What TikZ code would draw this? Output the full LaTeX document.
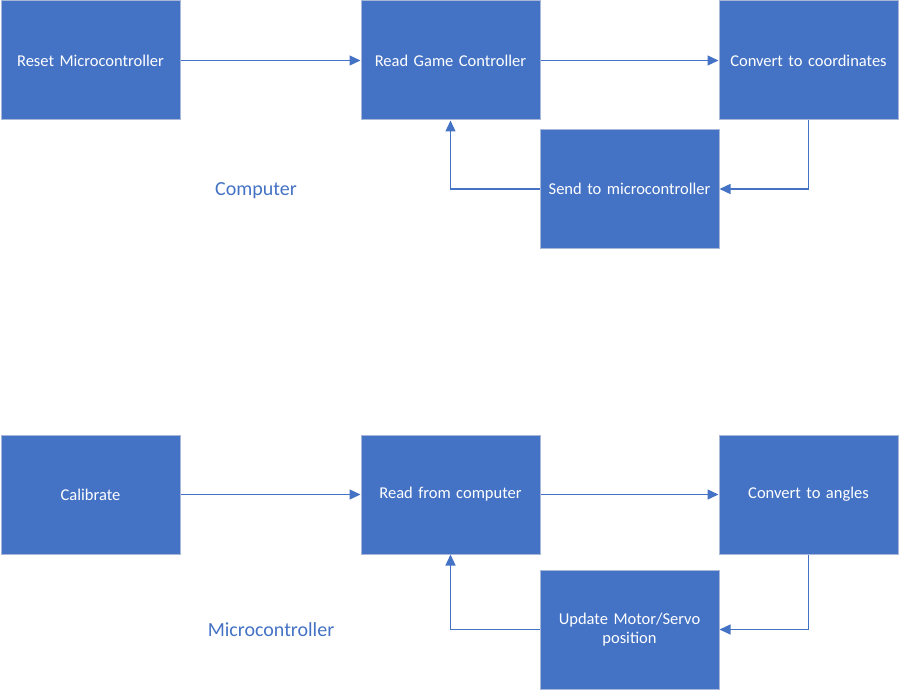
\documentclass[tikz,border=0pt]{standalone}
\usepackage{fontspec}
\setmainfont{Carlito}
\usetikzlibrary{arrows.meta}
\definecolor{boxblue}{HTML}{4472C4}
\definecolor{boxedge}{HTML}{A9B8D8}
\tikzset{
  stepbox/.style={rectangle, fill=boxblue, draw=boxedge, line width=1pt, minimum width=179pt, minimum height=119pt, inner sep=2pt, text=white, font=\fontsize{16.5pt}{19.5pt}\selectfont, align=center, text width=172pt},
  conn/.style={draw=boxblue, line width=1.3pt, -{Triangle[length=11pt,width=10pt]}},
  grouplabel/.style={text=boxblue, font=\fontsize{20pt}{24pt}\selectfont}
}
\begin{document}
\begin{tikzpicture}[x=1pt,y=-1pt]
\useasboundingbox (0,0) rectangle (900,690);
\node[stepbox] (reset) at (90.5,60.5) {Reset Microcontroller};
\node[stepbox] (readgc) at (450.5,60.5) {Read Game Controller};
\node[stepbox] (conv) at (808.5,60.5) {Convert to coordinates};
\node[stepbox] (send) at (629.5,189) {Send to microcontroller};
\node[grouplabel] (comp) at (256,190.5) {Computer};
\draw[conn] (reset) -- (readgc);
\draw[conn] (readgc) -- (conv);
\draw[conn] (conv.south) |- (send.east);
\draw[conn] (send.west) -| (readgc.south);

\node[stepbox] (cal) at (90.5,494.5) {Calibrate};
\node[stepbox] (readpc) at (450.5,494.5) {Read from computer};
\node[stepbox] (angles) at (808.5,494.5) {Convert to angles};
\node[stepbox, text width=150pt] (upd) at (629.5,629.5) {Update Motor/Servo\\position};
\node[grouplabel] (micro) at (271,629.5) {Microcontroller};
\draw[conn] (cal) -- (readpc);
\draw[conn] (readpc) -- (angles);
\draw[conn] (angles.south) |- (upd.east);
\draw[conn] (upd.west) -| (readpc.south);
\end{tikzpicture}
\end{document}
